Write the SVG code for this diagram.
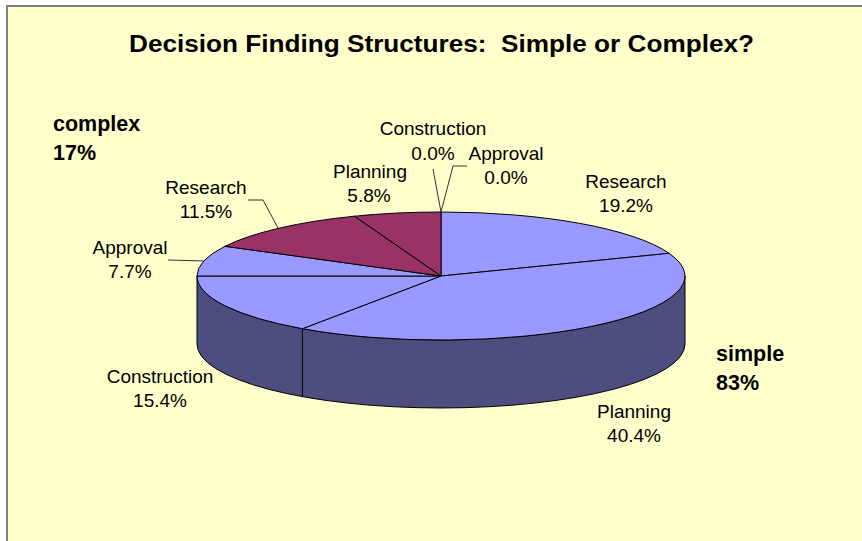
<svg xmlns="http://www.w3.org/2000/svg" width="862" height="541" viewBox="0 0 862 541">
<style>
  .lbl { font-family: "Liberation Sans", Arial, sans-serif; font-size: 19px; fill: #000; text-anchor: middle; }
  .big { font-family: "Liberation Sans", Arial, sans-serif; font-size: 21.5px; font-weight: bold; fill: #000; }
  .title { font-family: "Liberation Sans", Arial, sans-serif; font-size: 23.5px; font-weight: bold; fill: #000; white-space: pre; }
  .blue { fill: #9999FF; stroke: #000; stroke-width: 1; stroke-linejoin: round; }
  .red { fill: #993366; stroke: #000; stroke-width: 1; stroke-linejoin: round; }
  .side { fill: #4D4D80; stroke: #000; stroke-width: 1; }
  .lead { fill: none; stroke: #333; stroke-width: 1; }
</style>
<rect x="0" y="0" width="862" height="541" fill="#FFFFFF"/>
<rect id="frame" x="7" y="6" width="880" height="560" fill="#FFFFCC" stroke="#808080" stroke-width="2"/>
<text id="title" class="title" x="129" y="52" textLength="625" lengthAdjust="spacingAndGlyphs" xml:space="preserve">Decision Finding Structures:  Simple or Complex?</text>

<g id="pie-side">
  <path class="side" d="M197,276 A244,64 0 0 0 685,276 L685,344 A244,64 0 0 1 197,344 Z"/>
  <line x1="302.4" y1="328.7" x2="302.4" y2="396.7" stroke="#000" stroke-width="1"/>
</g>

<g id="slice-research-simple"><path class="blue" d="M441,276 L441,212 A244,64 0 0 1 669.1,253.3 Z"/></g>
<g id="slice-planning-simple"><path class="blue" d="M441,276 L669.1,253.3 A244,64 0 0 1 302.4,328.7 Z"/></g>
<g id="slice-construction-simple"><path class="blue" d="M441,276 L302.4,328.7 A244,64 0 0 1 197,276 Z"/></g>
<g id="slice-approval-simple"><path class="blue" d="M441,276 L197,276 A244,64 0 0 1 225,246.3 Z"/></g>
<g id="slice-research-complex"><path class="red" d="M441,276 L225,246.3 A244,64 0 0 1 354.5,216.2 Z"/></g>
<g id="slice-planning-complex"><path class="red" d="M441,276 L354.5,216.2 A244,64 0 0 1 441,212 Z"/></g>

<g id="connectors">
  <path class="lead" d="M168,260 L204,261"/>
  <path class="lead" d="M248,200 L263,200 L278,228"/>
  <path class="lead" d="M433,169 L441,212"/>
  <path class="lead" d="M467,166 L453,166 L441,212"/>
</g>

<g id="label-complex"><text class="big" x="53" y="131">complex</text><text class="big" x="53" y="160">17%</text></g>
<g id="label-simple"><text class="big" x="716" y="361">simple</text><text class="big" x="716" y="390">83%</text></g>

<g id="label-research-simple"><text class="lbl" x="626" y="188">Research</text><text class="lbl" x="626" y="212">19.2%</text></g>
<g id="label-planning-simple"><text class="lbl" x="634" y="418">Planning</text><text class="lbl" x="634" y="442">40.4%</text></g>
<g id="label-construction-simple"><text class="lbl" x="160" y="383">Construction</text><text class="lbl" x="160" y="407">15.4%</text></g>
<g id="label-approval-simple"><text class="lbl" x="130" y="254">Approval</text><text class="lbl" x="130" y="278">7.7%</text></g>
<g id="label-research-complex"><text class="lbl" x="206" y="194">Research</text><text class="lbl" x="206" y="218">11.5%</text></g>
<g id="label-planning-complex"><text class="lbl" x="370" y="178">Planning</text><text class="lbl" x="369" y="202">5.8%</text></g>
<g id="label-construction-complex"><text class="lbl" x="433" y="135">Construction</text><text class="lbl" x="433" y="160">0.0%</text></g>
<g id="label-approval-complex"><text class="lbl" x="506" y="160">Approval</text><text class="lbl" x="506" y="184">0.0%</text></g>
</svg>
